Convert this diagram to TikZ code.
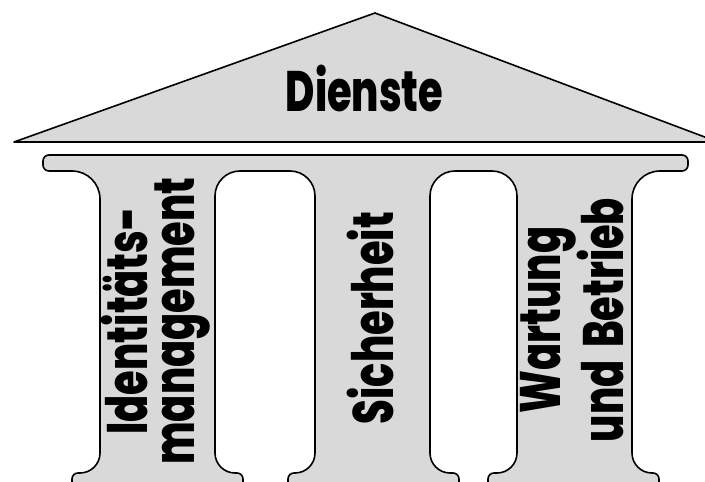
\documentclass[tikz,border=0pt]{standalone}
\usepackage{fontspec}
\setmainfont{Poppins}[FakeStretch=0.70, BoldFont={Poppins ExtraBold}, WordSpace=1.6]
\definecolor{stone}{HTML}{D9D9D9}
\tikzset{
  outline/.style={draw=black, line width=1.6pt, fill=stone, line join=round},
  pillartext/.style={rotate=90, align=center, font=\fontsize{57}{47}\selectfont\bfseries, inner sep=0pt}
}
\begin{document}
\begin{tikzpicture}[x=1pt, y=1pt]
\useasboundingbox (0,0) rectangle (705,482);
\clip (0,0) rectangle (705,482);
\fill[white] (0,0) rectangle (705,482);
\begin{scope}[yscale=-1, yshift=-482pt]
% roof
\draw[outline] (14,142) -- (375,13) -- (718,142) -- cycle;
% entablature with three pillars
\draw[outline] (49,155) -- (682,155)
  arc[start angle=-90, end angle=0, radius=6] -- (688,165)
  arc[start angle=0, end angle=90, radius=6] -- (660,171)
  arc[start angle=-90, end angle=-180, radius=28] -- (632,453)
  arc[start angle=180, end angle=90, radius=20] -- (653,473)
  arc[start angle=-90, end angle=0, radius=6] -- (659,495)
  -- (488,495) -- (488,479)
  arc[start angle=180, end angle=270, radius=6] -- (497,473)
  arc[start angle=90, end angle=0, radius=20] -- (517,196)
  arc[start angle=0, end angle=-90, radius=25] -- (455,171)
  arc[start angle=-90, end angle=-180, radius=25] -- (430,453)
  arc[start angle=180, end angle=90, radius=20] -- (453,473)
  arc[start angle=-90, end angle=0, radius=6] -- (459,495)
  -- (288,495) -- (288,479)
  arc[start angle=180, end angle=270, radius=6] -- (295,473)
  arc[start angle=90, end angle=0, radius=20] -- (315,196)
  arc[start angle=0, end angle=-90, radius=25] -- (240,171)
  arc[start angle=-90, end angle=-180, radius=25] -- (215,453)
  arc[start angle=180, end angle=90, radius=20] -- (237,473)
  arc[start angle=-90, end angle=0, radius=6] -- (243,495)
  -- (72,495) -- (72,479)
  arc[start angle=180, end angle=270, radius=6] -- (80,473)
  arc[start angle=90, end angle=0, radius=20] -- (100,199)
  arc[start angle=0, end angle=-90, radius=28] -- (49,171)
  arc[start angle=90, end angle=180, radius=6] -- (43,161)
  arc[start angle=180, end angle=270, radius=6] -- cycle;
% labels
\node[font=\fontsize{57}{57}\selectfont\bfseries, inner sep=0pt, anchor=base] (dienste) at (364.5,112) {Dienste};
\node[pillartext] (identity) at (156,321) {Identitäts-\\management};
\node[pillartext] (security) at (370,318) {Sicherheit};
\node[pillartext] (operation) at (572,320) {Wartung\\und Betrieb};
\end{scope}
\end{tikzpicture}
\end{document}
